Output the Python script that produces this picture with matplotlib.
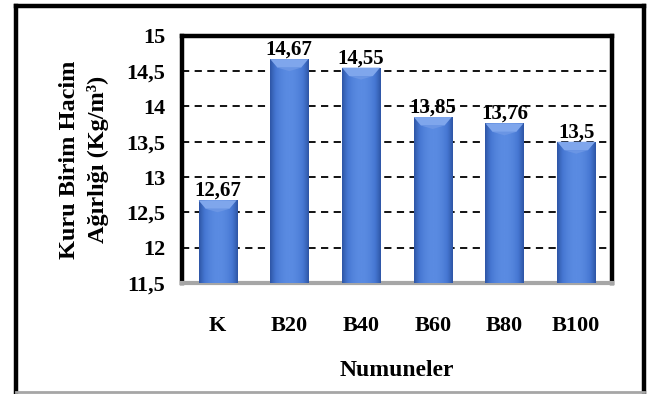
import numpy as np
import matplotlib.pyplot as plt
from matplotlib.patches import Polygon
from matplotlib.lines import Line2D

plt.rcParams['font.family'] = ['Liberation Serif', 'DejaVu Serif']
plt.rcParams['font.weight'] = 'bold'

samples = ['K', 'B20', 'B40', 'B60', 'B80', 'B100']
density = [12.67, 14.67, 14.55, 13.85, 13.76, 13.5]
value_labels = ['12,67', '14,67', '14,55', '13,85', '13,76', '13,5']
yticks = [11.5, 12, 12.5, 13, 13.5, 14, 14.5, 15]
ytick_labels = ['11,5', '12', '12,5', '13', '13,5', '14', '14,5', '15']

fig = plt.figure(figsize=(6.49, 3.94), dpi=100)
ax = fig.add_axes([0.280, 0.282, 0.663, 0.627])

x = np.arange(len(samples))
bw = 0.53
bars = ax.bar(x, density, width=bw, bottom=0, color='#4472C4', zorder=3)

ax.set_xlim(-0.5, len(samples) - 0.5)
ax.set_ylim(11.5, 15)

# shaded fill for each bar: darker edges, lighter middle
grad = np.linspace(-1, 1, 64)
shade = 1 - grad ** 2
cmap = plt.matplotlib.colors.LinearSegmentedColormap.from_list(
    'barblue', ['#2E56A6', '#4677D2', '#5A8BE2'])
for rect, val in zip(bars, density):
    x0 = rect.get_x()
    x1 = x0 + rect.get_width()
    im = ax.imshow(shade[np.newaxis, :], cmap=cmap, aspect='auto',
                   extent=[x0, x1, 11.5, val], zorder=4)
    im.set_clip_path(rect)
    # bevelled top
    depth = 0.12
    top = Polygon([[x0, val], [x1, val], [x1 - 0.1, val - depth],
                   [x0 + 0.1, val - depth]], closed=True,
                  facecolor='#7FA6EC', edgecolor='none', zorder=5)
    ax.add_patch(top)
    tip = Polygon([[x0 + 0.1, val - depth], [x1 - 0.1, val - depth],
                   [(x0 + x1) / 2, val - depth - 0.05]], closed=True,
                  facecolor='#6A95E4', edgecolor='none', zorder=5)
    ax.add_patch(tip)

for xi, val, lab in zip(x, density, value_labels):
    ax.text(xi, val - 0.01, lab, ha='center', va='bottom', fontsize=15,
            fontweight='bold', zorder=6)

for yv in yticks[1:-1]:
    ax.axhline(yv, color='black', linestyle=(0, (4, 3)), linewidth=1.3, zorder=1)

ax.set_yticks(yticks)
ax.set_yticklabels(ytick_labels, fontsize=16, fontweight='bold')
ax.set_xticks(x)
ax.set_xticklabels(samples, fontsize=16, fontweight='bold')
ax.tick_params(axis='both', length=0)
ax.tick_params(axis='y', pad=12)
ax.tick_params(axis='x', pad=24)

for side in ['left', 'top', 'right']:
    ax.spines[side].set_linewidth(3.2)
    ax.spines[side].set_color('black')
ax.spines['bottom'].set_linewidth(3)
ax.spines['bottom'].set_color('#A6A6A6')

ax.set_xlabel('Numuneler', fontsize=17, fontweight='bold', labelpad=17)
ax.set_ylabel('Kuru Birim Hacim\nAğırlığı (Kg/m³)', fontsize=17.5,
              fontweight='bold', labelpad=12, linespacing=1.45)

# outer frame
kw = dict(transform=fig.transFigure, linewidth=3.2, solid_capstyle='projecting')
fig.add_artist(Line2D([0.025, 0.025], [0.005, 0.984], color='black', **kw))
fig.add_artist(Line2D([0.025, 0.993], [0.984, 0.984], color='black', **kw))
fig.add_artist(Line2D([0.993, 0.993], [0.005, 0.984], color='black', **kw))
fig.add_artist(Line2D([0.025, 0.993], [0.005, 0.005], color='#A6A6A6',
                      transform=fig.transFigure, linewidth=2))

fig.savefig('out.png', dpi=100)
